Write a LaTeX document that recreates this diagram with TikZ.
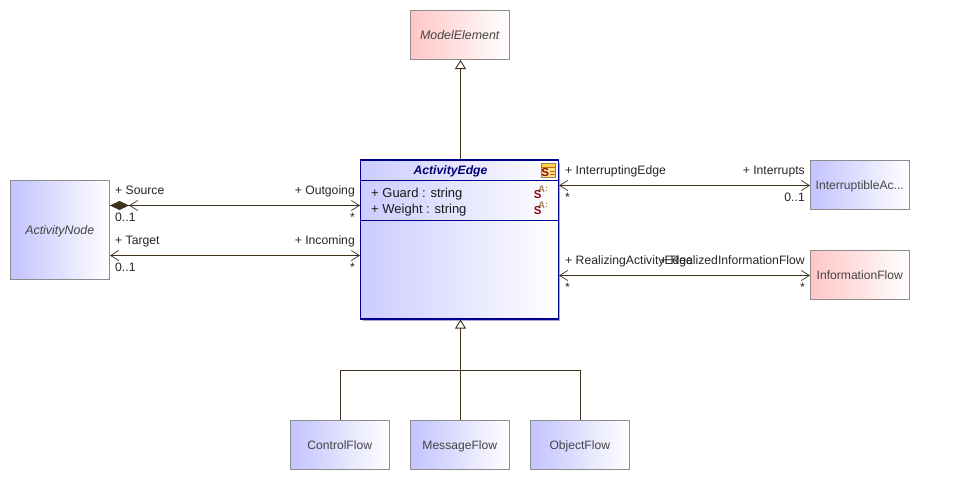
\documentclass[tikz,border=0pt]{standalone}
\usepackage{fontspec}
\setmainfont{Liberation Sans}
\usetikzlibrary{arrows.meta,calc}
\definecolor{wire}{HTML}{40321F}
\definecolor{bluefill}{HTML}{C2C2FF}
\definecolor{mainfill}{HTML}{CCCCFF}
\definecolor{pinkfill}{HTML}{FFC6C6}
\definecolor{boxline}{HTML}{8C8C8C}
\definecolor{boxtext}{HTML}{444444}
\definecolor{navyline}{HTML}{000090}
\definecolor{shadowblue}{HTML}{A8A8D8}
\definecolor{iconred}{HTML}{8B0A0A}
\definecolor{iconbrown}{HTML}{A08050}
\tikzset{
  box/.style={draw=boxline,line width=1pt,minimum width=99.5pt,inner sep=0pt,text=boxtext,font=\fontsize{12.1}{14}\selectfont,right color=white,text height=10.5pt,text depth=2pt},
  bluebox/.style={box,left color=bluefill},
  pinkbox/.style={box,left color=pinkfill},
  abstract/.style={font=\fontsize{12.4}{14}\selectfont\itshape},
  wireline/.style={draw=wire,line width=1pt},
  barb/.tip={Straight Barb[length=8pt,width=10pt,line width=0.7pt,sep=0pt]},
  gen/.style={wireline,-{Triangle[open,fill=white,length=9pt,width=11pt,line width=0.9pt]}},
  assoc/.style={wireline,barb-barb},
  comp/.style={wireline,-{Straight Barb[length=8pt,width=10pt,line width=0.7pt,sep=0pt]Diamond[length=19pt,width=9pt,sep=0pt,fill=wire]}},
  lbl/.style={anchor=base west,inner sep=0pt,font=\fontsize{12.2}{14}\selectfont,text=black!85},
  lblr/.style={anchor=base east,inner sep=0pt,font=\fontsize{12.2}{14}\selectfont,text=black!85},
  attr/.style={anchor=base west,inner sep=0pt,font=\fontsize{13}{15}\selectfont,text=black!90},
  sglyph/.style={inner sep=0pt,font=\fontsize{11.5}{12}\selectfont\bfseries,text=iconred},
  aglyph/.style={inner sep=0pt,font=\fontsize{9.5}{10}\selectfont\bfseries,text=iconbrown},
  dglyph/.style={inner sep=0pt,font=\fontsize{8}{9}\selectfont\bfseries,text=iconbrown}
}
\begin{document}
\begin{tikzpicture}[x=1pt,y=-1pt]
\useasboundingbox (0,0) rectangle (973,480);
\fill[white] (0,0) rectangle (973,480);
% boxes
\node[pinkbox,abstract,minimum height=49.5pt] (model) at (459.75,34.75) {ModelElement};
\node[bluebox,abstract,minimum height=99.5pt] (anode) at (59.75,229.75) {ActivityNode};
\node[bluebox,minimum height=49.5pt] (inter) at (859.75,184.75) {InterruptibleAc...};
\node[pinkbox,minimum height=49.5pt] (info) at (859.75,274.75) {InformationFlow};
\node[bluebox,minimum height=49.5pt] (control) at (339.75,444.75) {ControlFlow};
\node[bluebox,minimum height=49.5pt] (message) at (459.75,444.75) {MessageFlow};
\node[bluebox,minimum height=49.5pt] (object) at (579.75,444.75) {ObjectFlow};
% main class
\fill[shadowblue] (363,163) rectangle (560,321);
\node[draw=navyline,line width=1.2pt,left color=mainfill,right color=white,minimum width=198pt,minimum height=159pt,inner sep=0pt] (edge) at (459.5,239.5) {};
\draw[navyline,line width=1pt] (361,180.5) coordinate (c1a) -- (558,180.5) coordinate (c1b);
\draw[navyline,line width=1pt] (361,220.5) coordinate (c2a) -- (558,220.5) coordinate (c2b);
\node[inner sep=0pt,anchor=base,font=\fontsize{12.2}{14}\selectfont\bfseries\itshape,text=navyline!80!black] (title) at (450.5,174) {ActivityEdge};
\node[attr] (guard) at (371,197) {+ Guard : string};
\node[attr] (weight) at (371,213) {+ Weight : string};
% class icon
\draw[draw=iconbrown,fill=yellow!45!orange!40,line width=1pt] (541.5,163.5) rectangle (555.5,177.5);
\fill[orange!50!yellow!70] (542,164) rectangle (555,167);
\draw[orange!80!black,line width=0.8pt] (542,167.5) -- (555,167.5) (550,171) -- (555,171) (550,174) -- (555,174);
\node[sglyph] (icon) at (545.3,173) {S};
% attribute icons
\node[aglyph] (a1) at (541.5,189.5) {A};
\node[sglyph] (s1) at (537.8,195) {S};
\node[dglyph] (d1) at (546.8,189.5) {:};
\node[aglyph] (a2) at (541.5,205.5) {A};
\node[sglyph] (s2) at (537.8,211) {S};
\node[dglyph] (d2) at (546.8,205.5) {:};
% generalisations
\draw[gen] ([xshift=.75pt]model.south |- edge.north) -- ([xshift=.75pt]model.south);
\coordinate (join) at (460.5,370.5);
\draw[gen] ([xshift=.75pt]message.north) -- ([xshift=.75pt]message.north |- edge.south);
\draw[wireline] ([xshift=.75pt]control.north) |- (join);
\draw[wireline] ([xshift=.75pt]object.north) |- (join);
% associations
\coordinate (srcL) at (110,205.5);
\coordinate (srcR) at (360,205.5);
\coordinate (tgtL) at (110,255.5);
\coordinate (tgtR) at (360,255.5);
\coordinate (intL) at (559,185.5);
\coordinate (intR) at (810,185.5);
\coordinate (infL) at (559,275.5);
\coordinate (infR) at (810,275.5);
\draw[wireline,-{Straight Barb[length=8pt,width=10pt,line width=0.7pt]}] (srcL) -- (srcR);
\draw[comp] (srcR) -- (srcL);
\draw[assoc] (tgtL) -- (tgtR);
\draw[assoc] (intL) -- (intR);
\draw[assoc] (infL) -- (infR);
% labels
\node[lbl] (l1) at (115,194) {+ Source};
\node[lbl] (l2) at (115,221) {0..1};
\node[lblr] (l3) at (355,194) {+ Outgoing};
\node[lblr] (l4) at (355,221) {*};
\node[lbl] (l5) at (115,244) {+ Target};
\node[lbl] (l6) at (115,271) {0..1};
\node[lblr] (l7) at (355,244) {+ Incoming};
\node[lblr] (l8) at (355,271) {*};
\node[lbl] (l9) at (565,174) {+ InterruptingEdge};
\node[lbl] (l10) at (565,201) {*};
\node[lblr] (l11) at (805,174) {+ Interrupts};
\node[lblr] (l12) at (805,201) {0..1};
\node[lbl] (l13) at (565,264) {+ RealizingActivityEdge};
\node[lbl] (l14) at (565,291) {*};
\node[lblr] (l15) at (805,264) {+ RealizedInformationFlow};
\node[lblr] (l16) at (805,291) {*};
\end{tikzpicture}
\end{document}
